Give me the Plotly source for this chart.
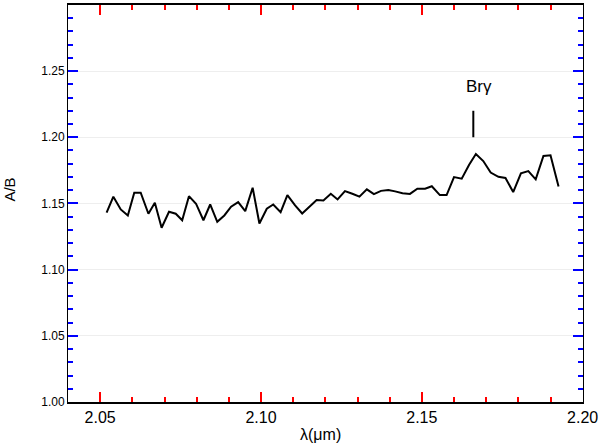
import plotly.graph_objects as go

# wavelength (micron) and A/B flux ratio
wavelength = [
    2.0520, 2.0541, 2.0564, 2.0586, 2.0606, 2.0626, 2.0650, 2.0670,
    2.0691, 2.0714, 2.0735, 2.0755, 2.0776, 2.0798, 2.0821, 2.0842,
    2.0864, 2.0886, 2.0907, 2.0929, 2.0951, 2.0974, 2.0995, 2.1018,
    2.1038, 2.1061, 2.1082, 2.1106, 2.1128, 2.1152, 2.1173, 2.1194,
    2.1217, 2.1238, 2.1261, 2.1284, 2.1306, 2.1329, 2.1351, 2.1373,
    2.1396, 2.1417, 2.1440, 2.1463, 2.1486, 2.1510, 2.1531, 2.1556,
    2.1577, 2.1600, 2.1624, 2.1647, 2.1668, 2.1691, 2.1714, 2.1738,
    2.1760, 2.1784, 2.1808, 2.1831, 2.1854, 2.1878, 2.1900, 2.1925,
]
ratio = [
    1.1430, 1.1551, 1.1455, 1.1409, 1.1581, 1.1581, 1.1422, 1.1505,
    1.1316, 1.1437, 1.1422, 1.1373, 1.1555, 1.1498, 1.1373, 1.1492,
    1.1361, 1.1409, 1.1475, 1.1510, 1.1442, 1.1619, 1.1348, 1.1460,
    1.1492, 1.1434, 1.1563, 1.1485, 1.1424, 1.1480, 1.1525, 1.1523,
    1.1573, 1.1530, 1.1593, 1.1573, 1.1551, 1.1606, 1.1570, 1.1595,
    1.1602, 1.1591, 1.1577, 1.1572, 1.1611, 1.1611, 1.1630, 1.1563,
    1.1563, 1.1699, 1.1687, 1.1792, 1.1873, 1.1820, 1.1733, 1.1701,
    1.1692, 1.1586, 1.1727, 1.1744, 1.1682, 1.1858, 1.1864, 1.1627,
]

# Br gamma line marker
brg_label = "Brγ"
brg_x = 2.166
brg_y0, brg_y1 = 1.200, 1.220
brg_label_y = 1.238

font = "Liberation Sans, Arial, Helvetica, sans-serif"

fig = go.Figure()
fig.add_trace(go.Scatter(
    x=wavelength, y=ratio, mode="lines",
    line=dict(color="black", width=2),
    showlegend=False, hoverinfo="skip",
))

fig.add_shape(type="line", xref="x", yref="y",
              x0=brg_x, x1=brg_x, y0=brg_y0, y1=brg_y1,
              line=dict(color="black", width=2))
fig.add_annotation(x=brg_x, y=brg_label_y, xref="x", yref="y",
                   text=brg_label, showarrow=False,
                   font=dict(size=17, color="black", family=font),
                   xshift=6)

# axis titles as annotations so the margins stay fixed
fig.add_annotation(x=0.49, y=0, xref="paper", yref="paper",
                   text="λ(μm)", showarrow=False,
                   xanchor="center", yanchor="top", yshift=-22,
                   font=dict(size=16, color="black", family=font))
fig.add_annotation(x=0, y=0.535, xref="paper", yref="paper",
                   text="A/B", showarrow=False, textangle=-90,
                   xanchor="center", yanchor="middle", xshift=-58,
                   font=dict(size=15, color="black", family=font))

# x: full style but red ticks; y: thinner line, no tickfont override
fig.update_xaxes(
    range=[2.04, 2.2001], tick0=2.05,
    gridcolor="rgba(0,0,0,0)", zeroline=False, automargin=False,
    showline=True, linecolor="black", linewidth=2,
    mirror="ticks", ticks="inside", ticklen=10, tickwidth=2,
    tickcolor="red", tickmode="linear", dtick=0.05, tickformat=".2f",
    tickfont=dict(size=16, color="black", family=font),
    minor=dict(ticks="inside", ticklen=5, tickwidth=2, dtick=0.01,
               tickcolor="red"),
)
fig.update_yaxes(
    range=[1.00, 1.2999], tick0=1.00,
    showline=True, linecolor="black",
    mirror="ticks", ticks="inside", ticklen=10, tickwidth=2,
    tickcolor="blue", dtick=0.05, tickformat=".2f",
    minor=dict(ticks="inside", ticklen=5, tickwidth=2, dtick=0.01,
               tickcolor="blue"),
)

fig.update_layout(
    template="none",
    width=600, height=443,
    margin=dict(l=68, r=17, t=5, b=41),
    paper_bgcolor="white", plot_bgcolor="white",
    font=dict(family=font, color="black"),
)

fig.write_html("out.html", config={"displayModeBar": False},
               post_script="document.body.style.margin='0px';")
